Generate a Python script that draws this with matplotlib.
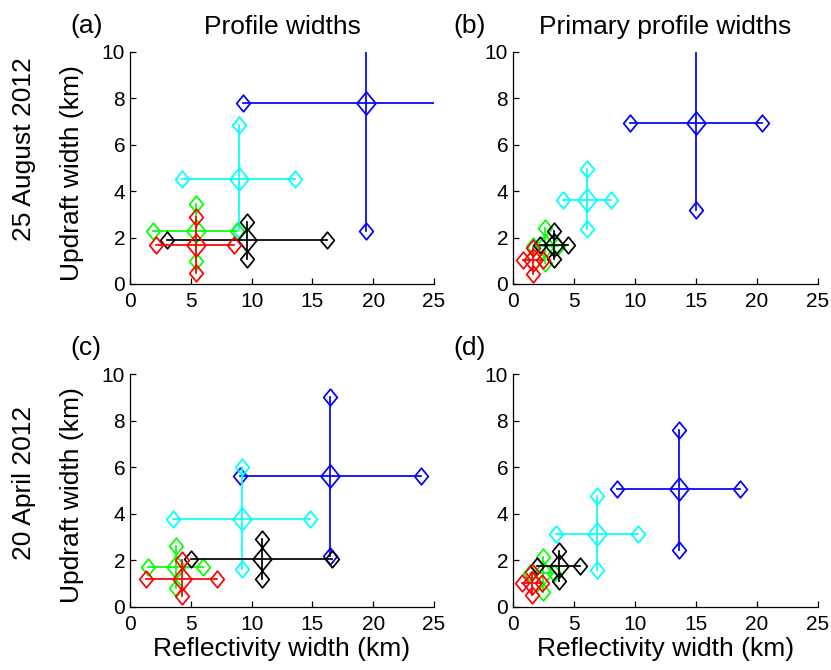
import matplotlib.pyplot as plt
import numpy as np
from matplotlib.path import Path

plt.rcParams['font.family'] = ['Liberation Sans', 'DejaVu Sans']

# colour order of the five groups in every panel
colors = ['#0000ff', '#00ffff', '#00ff00', 'black', '#ff0000']

# each panel: centre x/y, horizontal range (lo, hi), vertical range (lo, hi)
# order follows `colors`: blue, cyan, green, black, red
a_cx = [19.44, 8.95, 5.39, 9.64, 5.39]
a_cy = [7.82, 4.52, 2.27, 1.89, 1.66]
a_xlo = [9.31, 4.27, 1.92, 3.01, 2.14]
a_xhi = [28.0, 13.55, 8.84, 16.24, 8.57]
a_ylo = [2.30, 2.32, 1.00, 1.08, 0.46]
a_yhi = [11.5, 6.84, 3.44, 2.68, 2.87]

b_cx = [14.97, 6.07, 2.65, 3.33, 1.63]
b_cy = [6.92, 3.64, 1.65, 1.68, 1.02]
b_xlo = [9.56, 4.10, 1.60, 2.24, 0.79]
b_xhi = [20.41, 8.06, 3.65, 4.48, 2.49]
b_ylo = [3.19, 2.35, 0.90, 1.06, 0.45]
b_yhi = [10.65, 4.95, 2.40, 2.30, 1.55]

c_cx = [16.43, 9.17, 3.78, 10.82, 4.24]
c_cy = [5.61, 3.78, 1.72, 2.07, 1.22]
c_xlo = [9.04, 3.56, 1.45, 5.01, 1.29]
c_xhi = [23.90, 14.79, 6.02, 16.62, 7.17]
c_ylo = [2.17, 1.63, 0.82, 1.20, 0.46]
c_yhi = [9.01, 6.01, 2.60, 2.92, 2.03]

d_cx = [13.61, 6.89, 2.49, 3.77, 1.53]
d_cy = [5.06, 3.15, 1.45, 1.78, 1.05]
d_xlo = [8.52, 3.50, 1.39, 2.00, 0.71]
d_xhi = [18.63, 10.25, 3.40, 5.50, 2.35]
d_ylo = [2.46, 1.60, 0.66, 1.10, 0.52]
d_yhi = [7.61, 4.75, 2.16, 2.39, 1.51]

panels = [
    ('(a)', 'Profile widths', (a_cx, a_cy, a_xlo, a_xhi, a_ylo, a_yhi)),
    ('(b)', 'Primary profile widths', (b_cx, b_cy, b_xlo, b_xhi, b_ylo, b_yhi)),
    ('(c)', None, (c_cx, c_cy, c_xlo, c_xhi, c_ylo, c_yhi)),
    ('(d)', None, (d_cx, d_cy, d_xlo, d_xhi, d_ylo, d_yhi)),
]

# matlab-style diamond, a bit narrower than it is tall
diamond = Path([(0, 1), (0.82, 0), (0, -1), (-0.82, 0), (0, 1)],
               [Path.MOVETO, Path.LINETO, Path.LINETO, Path.LINETO, Path.CLOSEPOLY])

W, H = 831, 670
fig = plt.figure(figsize=(W / 100, H / 100), dpi=100)

# axes boxes in pixels: left, top, right, bottom
boxes = [(130, 52, 434, 284), (513, 52, 818, 284),
         (130, 374, 434, 607), (513, 374, 818, 607)]

axes = []
for (l, t, r, b) in boxes:
    ax = fig.add_axes([l / W, 1 - b / H, (r - l) / W, (b - t) / H])
    axes.append(ax)

for i, (ax, (tag, title, data)) in enumerate(zip(axes, panels)):
    cx, cy, xlo, xhi, ylo, yhi = data
    for k, col in enumerate(colors):
        ax.plot([xlo[k], xhi[k]], [cy[k], cy[k]], color=col, lw=1.25)
        ax.plot([cx[k], cx[k]], [ylo[k], yhi[k]], color=col, lw=1.25)
        ax.plot([xlo[k], xhi[k], cx[k], cx[k]], [cy[k], cy[k], ylo[k], yhi[k]],
                ls='none', marker=diamond, ms=12, mfc='none', mec=col, mew=1.25)
        ax.plot([cx[k]], [cy[k]], ls='none', marker=diamond, ms=16.5,
                mfc='none', mec=col, mew=1.25)

    ax.set_xlim(0, 25)
    ax.set_ylim(0, 10)
    ax.set_xticks(np.arange(0, 26, 5))
    ax.set_yticks(np.arange(0, 11, 2))
    ax.spines['top'].set_visible(False)
    ax.spines['right'].set_visible(False)
    for s in ('left', 'bottom'):
        ax.spines[s].set_linewidth(0.9)
    ax.tick_params(direction='in', length=4, width=0.9, labelsize=15)
    ax.tick_params(axis='x', pad=6)
    ax.tick_params(axis='y', pad=3.5)

    if title:
        ax.set_title(title, fontsize=19, pad=13)
    if i % 2 == 0:
        ax.set_ylabel('Updraft width (km)', fontsize=19)
        ax.yaxis.set_label_coords(-0.15, 0.48)
    if i >= 2:
        ax.set_xlabel('Reflectivity width (km)', fontsize=19, labelpad=2)

    l, t, r, b = boxes[i]
    fig.text((l - 60) / W, 1 - (t - 19) / H, tag, fontsize=19,
             ha='left', va='baseline')

fig.text(24 / W, 1 - 149 / H, '25 August 2012', fontsize=19, rotation=90,
         ha='center', va='center')
fig.text(24 / W, 1 - 483 / H, '20 April 2012', fontsize=19, rotation=90,
         ha='center', va='center')

fig.savefig('out.png', dpi=100)
